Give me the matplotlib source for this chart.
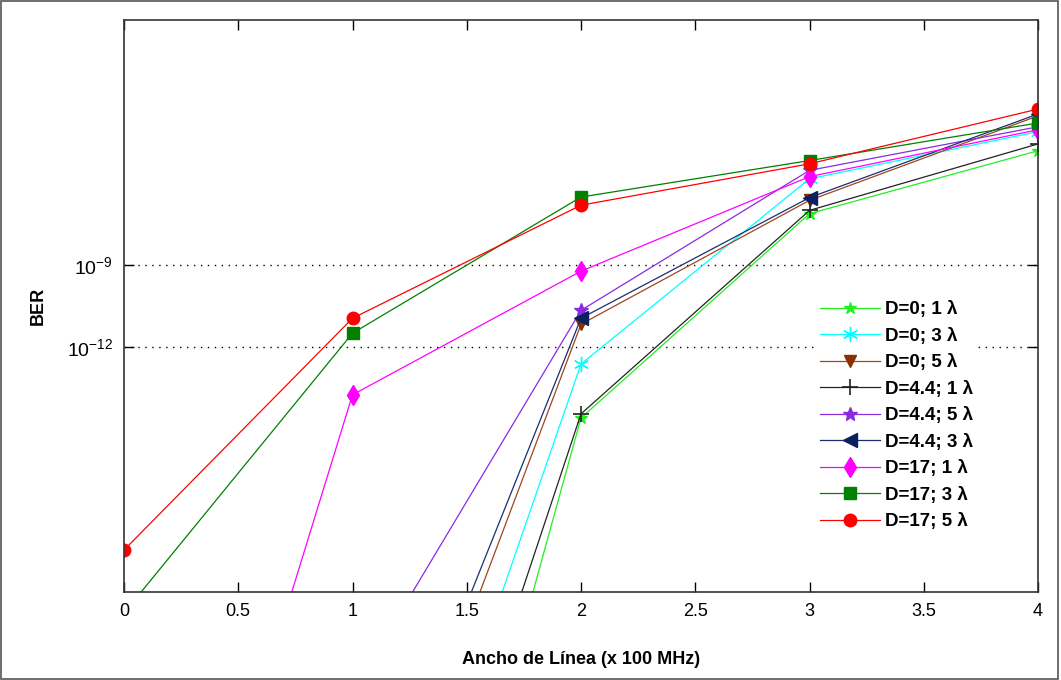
import numpy as np
import matplotlib
matplotlib.use("Agg")
import matplotlib.pyplot as plt
from matplotlib.patches import Rectangle

# Ancho de linea (x 100 MHz)
ancho = [0, 1, 2, 3, 4]

# log10(BER) (los valores bajo el eje son estimados)
log_ber = {
    "D=0; 1 λ":   [-65.0, -45.0, -14.61, -7.11, -4.80],
    "D=0; 3 λ":   [-55.0, -36.9, -12.63, -5.83, -4.10],
    "D=0; 5 λ":   [-52.0, -33.4, -11.17, -6.62, -3.52],
    "D=4.4; 1 λ": [-60.0, -39.7, -14.46, -6.99, -4.55],
    "D=4.4; 5 λ": [-40.0, -24.69, -10.66, -5.52, -3.92],
    "D=4.4; 3 λ": [-50.0, -31.9, -10.95, -6.52, -3.45],
    "D=17; 1 λ":  [-41.0, -13.76, -9.22, -5.75, -4.03],
    "D=17; 3 λ":  [-21.77, -11.50, -6.50, -5.16, -3.78],
    "D=17; 5 λ":  [-19.46, -10.95, -6.80, -5.28, -3.27],
}

estilos = {
    "D=0; 1 λ":   dict(color="#22ee22", marker="*", ms=9),
    "D=0; 3 λ":   dict(color="#00ffff", marker=(6, 2, 0), ms=11),
    "D=0; 5 λ":   dict(color="#a0461e", marker="v", ms=9, mfc="#8b2e00", mec="#8b2e00"),
    "D=4.4; 1 λ": dict(color="#222222", marker="+", ms=12, mew=1.2),
    "D=4.4; 5 λ": dict(color="#8a2be2", marker="*", ms=10),
    "D=4.4; 3 λ": dict(color="#1a2f6e", marker="<", ms=10, mfc="#0a2060", mec="#0a2060"),
    "D=17; 1 λ":  dict(color="#ff00ff", marker="d", ms=10),
    "D=17; 3 λ":  dict(color="#008000", marker="s", ms=8),
    "D=17; 5 λ":  dict(color="#ff0000", marker="o", ms=9),
}

narrow = ["Liberation Sans Narrow", "Liberation Sans", "DejaVu Sans"]
plt.rcParams["font.family"] = ["Liberation Sans", "DejaVu Sans"]

fig = plt.figure(figsize=(10.61, 6.8), dpi=100)
ax = fig.add_axes([124 / 1061, 1 - 592 / 680, (1038 - 124) / 1061, (592 - 20) / 680])

for nombre, vals in log_ber.items():
    st = dict(estilos[nombre])
    ax.semilogy(ancho, np.power(10.0, vals), linewidth=0.9, label=nombre,
                markersize=st.pop("ms"), **st)

ax.set_xlim(0, 4)
ax.set_ylim(1e-21, 1)
ax.set_xticks(np.arange(0, 4.01, 0.5))
ax.set_xticklabels(["0", "0.5", "1", "1.5", "2", "2.5", "3", "3.5", "4"],
                   fontfamily=narrow, fontsize=13)
ax.set_yticks([1e-12, 1e-9])
ax.set_yticklabels([r"$\mathregular{10^{-12}}$", r"$\mathregular{10^{-9}}$"], fontsize=14)
ax.minorticks_off()
ax.tick_params(direction="in", length=7, top=True, right=True, width=1, pad=8)
ax.yaxis.grid(True, linestyle=(0, (1, 4)), color="black", linewidth=1)

for s in ax.spines.values():
    s.set_linewidth(1.2)
    s.set_color("#333333")

ax.set_xlabel("Ancho de Línea (x 100 MHz)", fontsize=13, fontweight="bold",
              fontfamily=narrow, labelpad=22)
ax.set_ylabel("BER", fontsize=13, fontweight="bold", labelpad=14)

leg = ax.legend(loc="lower right", bbox_to_anchor=(0.945, 0.082), frameon=True,
                edgecolor="none", framealpha=1, fancybox=False,
                prop=dict(weight="bold", size=13.5), handlelength=3.2,
                labelspacing=0.5, borderpad=0.3, handletextpad=0.25)

fig.patches.append(Rectangle((0.001, 0.001), 0.996, 0.997, transform=fig.transFigure,
                             fill=False, edgecolor="#555555", linewidth=1.2))

fig.savefig("out.png", dpi=100)
